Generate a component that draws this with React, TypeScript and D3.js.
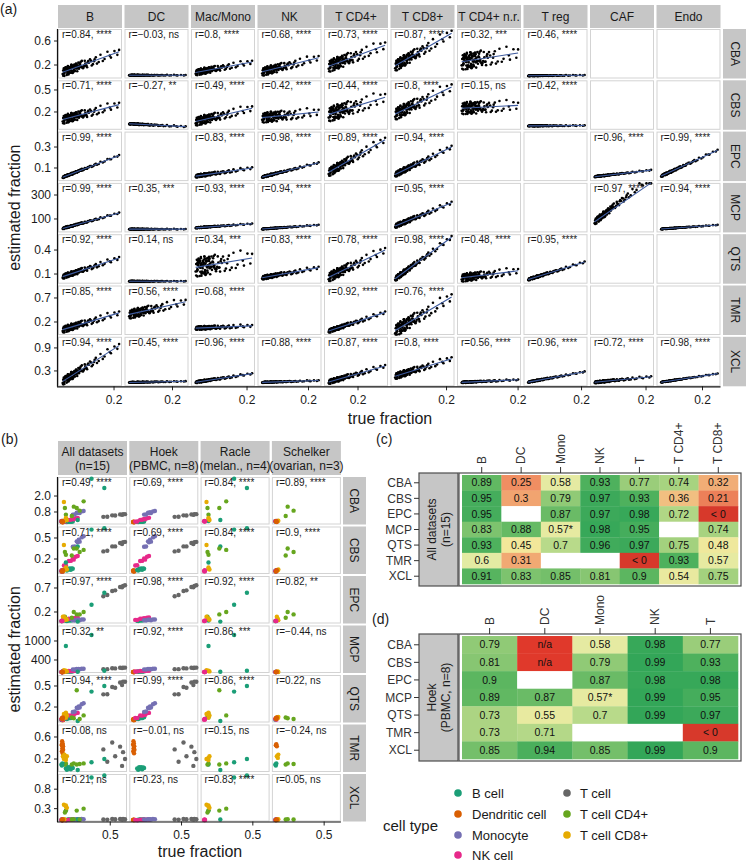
import React from "react";
import * as d3 from "d3";

const FONT = "'Liberation Sans', Arial, Helvetica, sans-serif";

// ---------------- Panel (a) data ----------------
const A_COLS = ["B", "DC", "Mac/Mono", "NK", "T CD4+", "T CD8+", "T CD4+ n.r.", "T reg", "CAF", "Endo"];
const METHODS = ["CBA", "CBS", "EPC", "MCP", "QTS", "TMR", "XCL"];
const A_XMAX = [0.219, 0.258, 0.219, 0.242, 0.374, 0.219, 0.2, 0.211, 0.219, 0.27];
const A_XTICK = 0.2;
const A_YDOM = [[-0.025, 0.8], [-0.043, 0.632], [-0.025, 0.447], [-12, 401], [-0.021, 0.598], [-0.071, 0.96], [-0.1, 1.19]];
const A_YTICKS = [["0.2", "0.6"], ["0.2", "0.5"], ["0.1", "0.3"], ["100", "300"], ["0.1", "0.4"], ["0.2", "0.7"], ["0.3", "0.9"]];

// per panel: [r, significance, estimate at left, estimate at right, spread]
const A_CBA = [["0.84", "****", 0.07, 0.42, 0.08], ["−0.03", "ns", 0.03, 0.03, 0.006], ["0.8", "****", 0.07, 0.25, 0.055], ["0.68", "****", 0.08, 0.32, 0.075], ["0.73", "****", 0.17, 0.53, 0.11], ["0.87", "****", 0.17, 0.73, 0.1], ["0.32", "***", 0.25, 0.4, 0.15], ["0.46", "****", 0.02, 0.03, 0.007], null, null];
const A_CBS = [["0.71", "****", 0.09, 0.3, 0.065], ["−0.27", "**", 0.04, 0.0, 0.01], ["0.49", "****", 0.065, 0.25, 0.065], ["0.42", "****", 0.12, 0.2, 0.075], ["0.44", "****", 0.16, 0.4, 0.11], ["0.8", "****", 0.16, 0.54, 0.09], ["0.15", "ns", 0.25, 0.29, 0.09], ["0.42", "****", 0.01, 0.015, 0.006], null, null];
const A_EPC = [["0.99", "****", 0.005, 0.22, 0.01], null, ["0.83", "****", 0.02, 0.1, 0.016], ["0.98", "****", 0.01, 0.15, 0.01], ["0.89", "****", 0.05, 0.37, 0.045], ["0.94", "****", 0.03, 0.3, 0.028], null, null, ["0.96", "****", 0.015, 0.08, 0.006], ["0.99", "****", 0.015, 0.27, 0.011]];
const A_MCP = [["0.99", "****", 17, 150, 8], ["0.35", "***", 15, 15, 3], ["0.93", "****", 25, 60, 5], ["0.94", "****", 15, 50, 4], null, ["0.95", "****", 35, 236, 20], null, null, ["0.97", "****", 65, 450, 28], ["0.94", "****", 15, 50, 3]];
const A_QTS = [["0.92", "****", 0.06, 0.3, 0.032], ["0.14", "ns", 0.01, 0.01, 0.004], ["0.34", "***", 0.18, 0.3, 0.13], ["0.83", "****", 0.05, 0.18, 0.027], ["0.78", "****", 0.05, 0.4, 0.065], ["0.98", "****", 0.025, 0.56, 0.035], ["0.48", "****", 0.05, 0.14, 0.055], ["0.95", "****", 0.025, 0.25, 0.016], null, null];
const A_TMR = [["0.85", "****", 0.03, 0.39, 0.075], ["0.56", "****", 0.35, 0.62, 0.1], ["0.68", "****", 0.07, 0.12, 0.04], null, ["0.92", "****", 0.0, 0.4, 0.045], ["0.76", "****", 0.0, 0.72, 0.14], null, null, null, null];
const A_XCL = [["0.94", "****", 0.0, 0.96, 0.11], ["0.45", "****", 0.0, 0.03, 0.01], ["0.96", "****", 0.0, 0.23, 0.03], ["0.88", "****", 0.0, 0.05, 0.015], ["0.87", "****", 0.0, 0.43, 0.065], ["0.8", "****", 0.15, 0.62, 0.09], ["0.56", "****", 0.0, 0.07, 0.02], ["0.96", "****", 0.0, 0.28, 0.02], ["0.72", "****", 0.0, 0.15, 0.03], ["0.98", "****", 0.0, 0.23, 0.01]];
const A_DATA = [A_CBA, A_CBS, A_EPC, A_MCP, A_QTS, A_TMR, A_XCL];

// relative true fraction positions and residuals of samples (hand typed)
const NX = [0.04, 0.31, 0.12, 0.22, 0.08, 0.45, 0.17, 0.27, 0.06, 0.36, 0.14, 0.52, 0.2, 0.1, 0.29, 0.41, 0.03, 0.24, 0.33, 0.16, 0.58, 0.11, 0.26, 0.39, 0.07, 0.19, 0.47, 0.13, 0.35, 0.23, 0.65, 0.09, 0.3, 0.18, 0.43, 0.05, 0.28, 0.5, 0.15, 0.37, 0.21, 0.72, 0.12, 0.34, 0.25, 0.55, 0.08, 0.4, 0.19, 0.62, 0.27, 0.1, 0.44, 0.32, 0.15, 0.8, 0.23, 0.48, 0.06, 0.38, 0.17, 0.57, 0.29, 0.13, 0.68, 0.35, 0.21, 0.86, 0.42, 0.26, 0.75, 0.11, 0.53, 0.92, 0.33, 0.6, 0.97, 0.46, 0.84, 1.0,
  0.05, 0.09, 0.13, 0.07, 0.18, 0.11, 0.22, 0.04, 0.15, 0.27, 0.08, 0.2, 0.12, 0.3, 0.06, 0.17, 0.1, 0.25, 0.14, 0.33, 0.07, 0.19, 0.12, 0.24, 0.09, 0.16, 0.28, 0.05, 0.21, 0.13, 0.35, 0.1, 0.18, 0.08, 0.23, 0.15, 0.11, 0.26, 0.06, 0.2];
const NR = [0.3, -0.5, 0.8, -0.1, 0.4, -0.8, 0.1, 0.6, -0.3, 0.9, -0.6, 0.2, -0.9, 0.5, -0.2, 0.7, -0.4, 0.0, 0.6, -0.7, 0.3, -0.1, 0.8, -0.5, 0.2, -0.8, 0.4, 0.1, -0.3, 0.7, -0.6, 0.5, -0.2, 0.9, -0.4, 0.3, -0.9, 0.6, 0.0, -0.5, 0.4, -0.7, 0.2, 0.8, -0.1, -0.6, 0.5, -0.3, 0.7, -0.8, 0.1, 0.6, -0.4, 0.3, -0.2, 0.9, -0.5, 0.0, 0.4, -0.7, 0.6, -0.1, 0.2, -0.9, 0.8, -0.3, 0.5, -0.6, 0.1, 0.7, -0.4, 0.3, -0.8, 0.5, -0.2, 0.6, -0.5, 0.2, -0.1, 0.4,
  -0.4, 0.6, -0.7, 0.2, 0.9, -0.1, 0.4, -0.8, 0.5, -0.3, 0.7, -0.6, 0.1, 0.8, -0.2, 0.3, -0.9, 0.5, -0.5, 0.2, 0.6, -0.4, 0.9, -0.7, 0.0, 0.4, -0.3, 0.7, -0.8, 0.3, -0.1, 0.6, -0.6, 0.8, -0.2, 0.1, -0.5, 0.4, -0.9, 0.2];

// ---------------- Panel (b) data ----------------
const B_COL_L1 = ["All datasets", "Hoek", "Racle", "Schelker"];
const B_COL_L2 = ["(n=15)", "(PBMC, n=8)", "(melan., n=4)", "(ovarian, n=3)"];
const B_YDOM = [[-0.14, 3.43], [-0.014, 0.664], [-0.04, 0.95], [-10.5, 1489], [-0.021, 0.657], [-0.036, 0.827], [-0.03, 1.19]];
const B_YTICKS = [["0.8", "2.0"], ["0.2", "0.5"], ["0.2", "0.7"], ["400", "1000"], ["0.2", "0.5"], ["0.2", "0.6"], ["0.3", "0.8"]];
const B_XDOM = [-0.03, 0.67];
const B_XTICK = 0.5;
const B_R_CBA = ["0.49, ****", "0.69, ****", "0.84, ****", "0.89, ****"];
const B_R_CBS = ["0.71, ****", "0.69, ****", "0.84, ****", "0.9, ****"];
const B_R_EPC = ["0.97, ****", "0.98, ****", "0.92, ****", "0.82, **"];
const B_R_MCP = ["0.32, **", "0.92, ****", "0.86, ***", "−0.44, ns"];
const B_R_QTS = ["0.94, ****", "0.99, ****", "0.86, ****", "0.22, ns"];
const B_R_TMR = ["0.08, ns", "−0.01, ns", "0.15, ns", "−0.24, ns"];
const B_R_XCL = ["0.21, ns", "0.23, ns", "0.83, ****", "0.05, ns"];
const B_R = [B_R_CBA, B_R_CBS, B_R_EPC, B_R_MCP, B_R_QTS, B_R_TMR, B_R_XCL];

const CELL_TYPES = ["B cell", "Dendritic cell", "Monocyte", "NK cell", "T cell", "T cell CD4+", "T cell CD8+"];
const CELL_COLORS = ["#1b9e77", "#d95f02", "#7570b3", "#e7298a", "#666666", "#66a61e", "#e6ab02"];

// Hoek (PBMC, 8 samples): true fractions per cell type
const HOEK_TYPES = ["Dendritic cell", "B cell", "NK cell", "Monocyte", "T cell"];
const HOEK_X_DC = [0.008, 0.01, 0.012, 0.014, 0.016, 0.018, 0.02, 0.022];
const HOEK_X_B = [0.05, 0.06, 0.07, 0.08, 0.09, 0.1, 0.11, 0.12];
const HOEK_X_NK = [0.03, 0.05, 0.08, 0.1, 0.12, 0.13, 0.15, 0.17];
const HOEK_X_MONO = [0.12, 0.14, 0.16, 0.17, 0.18, 0.19, 0.21, 0.23];
const HOEK_X_T = [0.43, 0.47, 0.52, 0.55, 0.6, 0.62, 0.63, 0.65];
const HOEK_X = [HOEK_X_DC, HOEK_X_B, HOEK_X_NK, HOEK_X_MONO, HOEK_X_T];
const HOEK_RES = [0.3, -0.6, 0.8, -0.2, 0.5, -0.9, 0.1, -0.4];
// per method, per Hoek type (DC, B, NK, Mono, T): [intercept, slope, spread]
const HOEK_CBA = [[0.05, 0, 0.02], [0.02, 0.6, 0.02], [0.0, 2.2, 0.04], [0.25, 2.8, 0.06], [-0.03, 1.05, 0.04]];
const HOEK_CBS = [[0.03, 0, 0.01], [0.02, 0.4, 0.015], [0.07, 1.07, 0.02], [0.18, 1.55, 0.03], [0.01, 0.68, 0.02]];
const HOEK_EPC = [null, [0.0, 0.3, 0.01], [0.02, 0.4, 0.01], [0.0, 0.2, 0.01], [0.05, 1.1, 0.02]];
const HOEK_MCP = [[20, 0, 5], [20, 200, 8], [30, 200, 8], [70, 250, 10], [0, 250, 10]];
const HOEK_QTS = [[0.02, 0, 0.01], [0.01, 0.4, 0.01], [0.02, 0.6, 0.015], [-0.03, 1.27, 0.02], [-0.04, 0.95, 0.04]];
const HOEK_TMR = [[0.42, 0, 0.13], [0.0, 0.4, 0.03], null, null, [0.3, 0, 0.25]];
const HOEK_XCL = [[0.01, 0, 0.005], [0.0, 0.2, 0.01], [0.0, 0.15, 0.008], [0.0, 0.15, 0.01], [0.0, 0.05, 0.008]];
const HOEK_FIT = [HOEK_CBA, HOEK_CBS, HOEK_EPC, HOEK_MCP, HOEK_QTS, HOEK_TMR, HOEK_XCL];

// Racle (melanoma, 4 samples): true fractions
const RACLE_TYPES = ["B cell", "T cell CD4+", "T cell CD8+", "NK cell"];
const RACLE_X = [[0.05, 0.17, 0.31, 0.44], [0.04, 0.05, 0.16, 0.23], [0.03, 0.05, 0.05, 0.06], [0.005, 0.01, 0.012, 0.015]];
const RACLE_CBA = [[0.12, 0.2, 3.3, 2.6], [1.1, 0.6, 1.1, 1.6], [1.55, 0.35, 0.3, 0.2], [0.1, 0.12, 0.08, 0.1]];
const RACLE_CBS = [[0.15, 0.38, 0.62, 0.64], [0.3, 0.26, 0.35, 0.33], [0.4, 0.08, 0.06, 0.05], [0.03, 0.02, 0.04, 0.03]];
const RACLE_EPC = [[0.02, 0.0, 0.35, 0.6], [0.1, 0.06, 0.15, 0.2], [0.1, 0.06, 0.05, 0.04], [0.01, 0.02, 0.01, 0.02]];
const RACLE_MCP = [[840, 30, 1190, 60], null, [80, 60, 50, 40], [5, 10, 5, 8]];
const RACLE_QTS = [[0.1, 0.0, 0.42, 0.5], [0.06, 0.05, 0.44, 0.08], [0.1, 0.05, 0.12, 0.08], [0.02, 0.03, 0.02, 0.03]];
const RACLE_TMR = [[0.1, 0.0, 0.14, 0.2], [0.1, 0.12, 0.1, 0.12], [0.2, 0.22, 0.18, 0.25], null];
const RACLE_XCL = [[0.25, 0.02, 1.1, 1.15], [0.2, 0.25, 0.25, 0.3], [0.4, 0.35, 0.38, 0.32], [0.01, 0.02, 0.01, 0.01]];
const RACLE_EST = [RACLE_CBA, RACLE_CBS, RACLE_EPC, RACLE_MCP, RACLE_QTS, RACLE_TMR, RACLE_XCL];

// Schelker (ovarian, 3 samples): true fractions
const SCHELKER_TYPES = ["B cell", "T cell CD4+", "T cell CD8+", "NK cell", "Dendritic cell"];
const SCHELKER_X = [[0.005, 0.01, 0.015], [0.11, 0.13, 0.19], [0.02, 0.03, 0.035], [0.005, 0.01, 0.015], [0.01, 0.015, 0.02]];
const SCHELKER_CBA = [[0.1, 0.08, 0.12], [0.5, 1.2, 0.9], [0.1, 0.12, 0.15], [0.1, 0.12, 0.08], [0.08, 0.1, 0.05]];
const SCHELKER_CBS = [[0.03, 0.02, 0.04], [0.25, 0.35, 0.3], [0.03, 0.04, 0.05], [0.03, 0.02, 0.04], [0.02, 0.03, 0.04]];
const SCHELKER_EPC = [[0.01, 0.01, 0.02], [0.08, 0.2, 0.15], [0.1, 0.06, 0.03], [0.01, 0.02, 0.01], null];
const SCHELKER_MCP = [[5, 8, 10], null, [30, 40, 20], [10, 5, 8], [15, 10, 20]];
const SCHELKER_QTS = [[0.02, 0.03, 0.04], [0.05, 0.04, 0.03], [0.05, 0.04, 0.06], [0.03, 0.04, 0.02], [0.04, 0.03, 0.05]];
const SCHELKER_TMR = [[0.1, 0.08, 0.12], [0.1, 0.12, 0.11], [0.25, 0.22, 0.28], null, [0.45, 0.47, 0.43]];
const SCHELKER_XCL = [[0.01, 0.02, 0.01], [0.02, 0.03, 0.02], [0.02, 0.01, 0.03], [0.01, 0.02, 0.01], [0.01, 0.01, 0.02]];
const SCHELKER_EST = [SCHELKER_CBA, SCHELKER_CBS, SCHELKER_EPC, SCHELKER_MCP, SCHELKER_QTS, SCHELKER_TMR, SCHELKER_XCL];

// ---------------- Heatmaps (c), (d) ----------------
const C_COLS = ["B", "DC", "Mono", "NK", "T", "T CD4+", "T CD8+"];
const C_CBA = ["0.89", "0.25", "0.58", "0.93", "0.77", "0.74", "0.32"];
const C_CBS = ["0.95", "0.3", "0.79", "0.97", "0.93", "0.36", "0.21"];
const C_EPC = ["0.95", "", "0.87", "0.97", "0.98", "0.72", "< 0"];
const C_MCP = ["0.83", "0.88", "0.57*", "0.98", "0.95", "", "0.74"];
const C_QTS = ["0.93", "0.45", "0.7", "0.96", "0.97", "0.75", "0.48"];
const C_TMR = ["0.6", "0.31", "", "", "< 0", "0.93", "0.57"];
const C_XCL = ["0.91", "0.83", "0.85", "0.81", "0.9", "0.54", "0.75"];
const C_VALUES = [C_CBA, C_CBS, C_EPC, C_MCP, C_QTS, C_TMR, C_XCL];

const D_COLS = ["B", "DC", "Mono", "NK", "T"];
const D_CBA = ["0.79", "n/a", "0.58", "0.98", "0.77"];
const D_CBS = ["0.81", "n/a", "0.79", "0.99", "0.93"];
const D_EPC = ["0.9", "", "0.87", "0.98", "0.98"];
const D_MCP = ["0.89", "0.87", "0.57*", "0.99", "0.95"];
const D_QTS = ["0.73", "0.55", "0.7", "0.99", "0.97"];
const D_TMR = ["0.73", "0.71", "", "", "< 0"];
const D_XCL = ["0.85", "0.94", "0.85", "0.99", "0.9"];
const D_VALUES = [D_CBA, D_CBS, D_EPC, D_MCP, D_QTS, D_TMR, D_XCL];

const heatColor = d3.scaleLinear<string>()
  .domain([0, 0.25, 0.45, 0.6, 0.75, 0.9, 1])
  .range(["#d7392b", "#f08e62", "#f2e79a", "#e3eba3", "#a3d17e", "#5cb660", "#2ea457"])
  .clamp(true);

function cellFill(label: string) {
  if (label === "") return "#ffffff";
  if (label === "n/a") return "#e0392b";
  if (label.startsWith("<")) return "#d7392b";
  return heatColor(parseFloat(label));
}

const STRIP = "#c6c6c6";
const BORDER = "#d3d3d3";
const LINE = "#3d5a9e";
const TXT = "#1a1a1a";

// ---------------- components ----------------
function PanelA() {
  const X0 = 58, PW = 64, SX = 66.5, Y0 = 29, PH = 49.5, SY = 51.3;
  const els: any[] = [];
  A_COLS.forEach((c, i) => {
    const x0 = X0 + i * SX;
    els.push(<rect key={"hs" + i} x={x0} y={5} width={PW} height={23} fill={STRIP} />);
    els.push(<text key={"ht" + i} x={x0 + PW / 2} y={16.5} dy="0.35em" textAnchor="middle" fontSize={12} fill={TXT}>{c}</text>);
  });
  METHODS.forEach((m, j) => {
    const y0 = Y0 + j * SY;
    const ys = d3.scaleLinear().domain(A_YDOM[j]).range([y0 + PH, y0]);
    els.push(<rect key={"rs" + j} x={723} y={y0} width={24} height={PH} fill={STRIP} />);
    els.push(<text key={"rt" + j} transform={`translate(735,${y0 + PH / 2}) rotate(90)`} dy="0.35em" textAnchor="middle" fontSize={12} fill={TXT}>{m}</text>);
    A_YTICKS[j].forEach((t, k) => {
      const yy = ys(+t);
      els.push(<line key={`yt${j}-${k}`} x1={54} x2={58} y1={yy} y2={yy} stroke="#222" />);
      els.push(<text key={`yl${j}-${k}`} x={51} y={yy} dy="0.35em" textAnchor="end" fontSize={12} fill={TXT}>{t}</text>);
    });
    A_COLS.forEach((c, i) => {
      const x0 = X0 + i * SX;
      const xm = A_XMAX[i];
      const xs = d3.scaleLinear().domain([-0.05 * xm, 1.05 * xm]).range([x0, x0 + PW]);
      els.push(<rect key={`p${j}-${i}`} x={x0 + 0.5} y={y0 + 0.5} width={PW - 1} height={PH - 1} fill="#fff" stroke={BORDER} />);
      const p: any = A_DATA[j][i];
      if (!p) return;
      const [r, sig, a, b, s] = p;
      const [lo, hi] = A_YDOM[j];
      const pts = NX.map((nx, k) => {
        const yv = Math.max(lo + (hi - lo) * 0.01, Math.min(hi - (hi - lo) * 0.01, a + (b - a) * nx + s * NR[k]));
        return [xs(nx * xm), ys(yv)];
      });
      pts.forEach(([px, py], k) => els.push(<circle key={`c${j}-${i}-${k}`} cx={px} cy={py} r={1.3} fill="#000" />));
      const nmin = d3.min(NX)!, nmax = d3.max(NX)!;
      const yl = (n: number) => ys(Math.max(lo, Math.min(hi, a + (b - a) * n)));
      els.push(<line key={`l${j}-${i}`} x1={xs(nmin * xm)} x2={xs(nmax * xm)} y1={yl(nmin)} y2={yl(nmax)} stroke={LINE} strokeWidth={1.1} />);
      els.push(<text key={`r${j}-${i}`} x={x0 + 4} y={y0 + 9} fontSize={10} fill={TXT}>{`r=${r}, ${sig}`}</text>);
    });
  });
  const yBottom = Y0 + 6 * SY + PH;
  A_COLS.forEach((c, i) => {
    const x0 = X0 + i * SX;
    const xm = A_XMAX[i];
    const xs = d3.scaleLinear().domain([-0.05 * xm, 1.05 * xm]).range([x0, x0 + PW]);
    const xx = xs(A_XTICK);
    els.push(<line key={"xt" + i} x1={xx} x2={xx} y1={yBottom} y2={yBottom + 4} stroke="#222" />);
    els.push(<text key={"xl" + i} x={xx} y={yBottom + 13} dy="0.35em" textAnchor="middle" fontSize={12} fill={TXT}>{A_XTICK.toString()}</text>);
  });
  els.push(<line key="ay" x1={57.5} x2={57.5} y1={Y0} y2={yBottom + 0.5} stroke="#111" strokeWidth={1.2} />);
  els.push(<line key="ax" x1={57} x2={X0 + 9 * SX + PW} y1={yBottom + 0.5} y2={yBottom + 0.5} stroke="#111" strokeWidth={1.2} />);
  els.push(<text key="xtitle" x={390} y={424} textAnchor="middle" fontSize={16} fill={TXT}>true fraction</text>);
  els.push(<text key="ytitle" transform={`translate(20,${(Y0 + yBottom) / 2}) rotate(-90)`} textAnchor="middle" fontSize={16} fill={TXT}>estimated fraction</text>);
  return <g>{els}</g>;
}

function PanelB() {
  const X0 = 58, PW = 69, SX = 71.3, Y0 = 477, PH = 47.5, SY = 49.5;
  const els: any[] = [];
  B_COL_L1.forEach((c, i) => {
    const x0 = X0 + i * SX;
    els.push(<rect key={"hs" + i} x={x0} y={441} width={PW} height={34} fill={STRIP} />);
    els.push(<text key={"ht" + i} x={x0 + PW / 2} y={452} dy="0.35em" textAnchor="middle" fontSize={12} fill={TXT}>{c}</text>);
    els.push(<text key={"hu" + i} x={x0 + PW / 2} y={465.5} dy="0.35em" textAnchor="middle" fontSize={12} fill={TXT}>{B_COL_L2[i]}</text>);
  });
  const colorOf = (t: string) => CELL_COLORS[CELL_TYPES.indexOf(t)];
  METHODS.forEach((m, j) => {
    const y0 = Y0 + j * SY;
    const ys = d3.scaleLinear().domain(B_YDOM[j]).range([y0 + PH, y0]);
    els.push(<rect key={"rs" + j} x={343} y={y0} width={23} height={PH} fill={STRIP} />);
    els.push(<text key={"rt" + j} transform={`translate(354.5,${y0 + PH / 2}) rotate(90)`} dy="0.35em" textAnchor="middle" fontSize={12} fill={TXT}>{m}</text>);
    B_YTICKS[j].forEach((t, k) => {
      const yy = ys(+t);
      els.push(<line key={`yt${j}-${k}`} x1={54} x2={58} y1={yy} y2={yy} stroke="#222" />);
      els.push(<text key={`yl${j}-${k}`} x={51} y={yy} dy="0.35em" textAnchor="end" fontSize={12} fill={TXT}>{t}</text>);
    });
    const hoek: any[] = [];
    HOEK_TYPES.forEach((t, ti) => {
      const f: any = HOEK_FIT[j][ti];
      if (!f) return;
      HOEK_X[ti].forEach((x, k) => hoek.push({ x, y: f[0] + f[1] * x + f[2] * HOEK_RES[k], c: colorOf(t) }));
    });
    const racle: any[] = [];
    RACLE_TYPES.forEach((t, ti) => {
      const e: any = RACLE_EST[j][ti];
      if (!e) return;
      RACLE_X[ti].forEach((x, k) => racle.push({ x, y: e[k], c: colorOf(t) }));
    });
    const sch: any[] = [];
    SCHELKER_TYPES.forEach((t, ti) => {
      const e: any = SCHELKER_EST[j][ti];
      if (!e) return;
      SCHELKER_X[ti].forEach((x, k) => sch.push({ x, y: e[k], c: colorOf(t) }));
    });
    const sets = [[...hoek, ...racle, ...sch], hoek, racle, sch];
    const [lo, hi] = B_YDOM[j];
    sets.forEach((pts, i) => {
      const x0 = X0 + i * SX;
      const xs = d3.scaleLinear().domain(B_XDOM).range([x0, x0 + PW]);
      els.push(<rect key={`p${j}-${i}`} x={x0 + 0.5} y={y0 + 0.5} width={PW - 1} height={PH - 1} fill="#fff" stroke={BORDER} />);
      pts.forEach((p: any, k: number) => {
        const yv = Math.max(lo + (hi - lo) * 0.02, Math.min(hi - (hi - lo) * 0.02, p.y));
        els.push(<circle key={`c${j}-${i}-${k}`} cx={xs(p.x)} cy={ys(yv)} r={2.2} fill={p.c} />);
      });
      els.push(<text key={`r${j}-${i}`} x={x0 + 4} y={y0 + 9} fontSize={10} fill={TXT}>{`r=${B_R[j][i]}`}</text>);
    });
  });
  const yBottom = Y0 + 6 * SY + PH;
  B_COL_L1.forEach((c, i) => {
    const x0 = X0 + i * SX;
    const xs = d3.scaleLinear().domain(B_XDOM).range([x0, x0 + PW]);
    const xx = xs(B_XTICK);
    els.push(<line key={"xt" + i} x1={xx} x2={xx} y1={yBottom} y2={yBottom + 4} stroke="#222" />);
    els.push(<text key={"xl" + i} x={xx} y={yBottom + 13} dy="0.35em" textAnchor="middle" fontSize={12} fill={TXT}>{B_XTICK.toString()}</text>);
  });
  els.push(<line key="ay" x1={57.5} x2={57.5} y1={Y0} y2={yBottom + 0.5} stroke="#111" strokeWidth={1.2} />);
  els.push(<line key="ax" x1={57} x2={X0 + 3 * SX + PW} y1={yBottom + 0.5} y2={yBottom + 0.5} stroke="#111" strokeWidth={1.2} />);
  els.push(<text key="xtitle" x={200} y={857} textAnchor="middle" fontSize={16} fill={TXT}>true fraction</text>);
  els.push(<text key="ytitle" transform={`translate(20,${(Y0 + yBottom) / 2}) rotate(-90)`} textAnchor="middle" fontSize={16} fill={TXT}>estimated fraction</text>);
  return <g>{els}</g>;
}

function Heatmap(props: { cols: string[]; values: string[][]; y0: number; y1: number; strip1: string; strip2: string }) {
  const { cols, values, y0, y1, strip1, strip2 } = props;
  const xs = d3.scaleBand().domain(cols).range([462, 738]);
  const ys = d3.scaleBand().domain(METHODS).range([y0 + 2, y1 - 2]);
  const els: any[] = [];
  els.push(<rect key="strip" x={419} y={y0} width={39} height={y1 - y0} fill={STRIP} stroke="#4d4d4d" strokeWidth={1.2} />);
  els.push(<rect key="panel" x={459} y={y0} width={282} height={y1 - y0} fill="#fff" stroke="#4d4d4d" strokeWidth={1.2} />);
  const cy = (y0 + y1) / 2;
  els.push(<text key="s1" transform={`translate(432,${cy}) rotate(-90)`} dy="0.35em" textAnchor="middle" fontSize={12} fill={TXT}>{strip1}</text>);
  els.push(<text key="s2" transform={`translate(446,${cy}) rotate(-90)`} dy="0.35em" textAnchor="middle" fontSize={12} fill={TXT}>{strip2}</text>);
  METHODS.forEach((m, j) => {
    const yy = ys(m)! + ys.bandwidth() / 2;
    els.push(<line key={"rt" + j} x1={414} x2={419} y1={yy} y2={yy} stroke="#333" />);
    els.push(<text key={"rl" + j} x={412} y={yy} dy="0.35em" textAnchor="end" fontSize={12} fill="#333">{m}</text>);
    cols.forEach((c, i) => {
      const lab = values[j][i];
      els.push(<rect key={`c${j}-${i}`} x={xs(c)!} y={ys(m)!} width={xs.bandwidth() + 0.3} height={ys.bandwidth() + 0.3} fill={cellFill(lab)} />);
      if (lab !== "") els.push(<text key={`t${j}-${i}`} x={xs(c)! + xs.bandwidth() / 2} y={yy} dy="0.35em" textAnchor="middle" fontSize={10.5} fill="#111">{lab}</text>);
    });
  });
  cols.forEach((c, i) => {
    const xx = xs(c)! + xs.bandwidth() / 2;
    els.push(<line key={"ct" + i} x1={xx} x2={xx} y1={y0 - 6} y2={y0} stroke="#333" />);
    els.push(<text key={"cl" + i} transform={`translate(${xx},${y0 - 9}) rotate(-90)`} dy="0.35em" textAnchor="start" fontSize={12} fill="#333">{c}</text>);
  });
  return <g>{els}</g>;
}

function Legend() {
  const col1 = CELL_TYPES.slice(0, 4);
  const col2 = CELL_TYPES.slice(4);
  const rowsY = [793, 814, 835, 855];
  return (
    <g>
      <text x={383} y={831} fontSize={15} fill={TXT}>cell type</text>
      {col1.map((t, k) => (
        <g key={"a" + k}>
          <circle cx={458} cy={rowsY[k]} r={3.8} fill={CELL_COLORS[CELL_TYPES.indexOf(t)]} />
          <text x={472} y={rowsY[k]} dy="0.35em" fontSize={13} fill={TXT}>{t}</text>
        </g>
      ))}
      {col2.map((t, k) => (
        <g key={"b" + k}>
          <circle cx={567} cy={rowsY[k]} r={3.8} fill={CELL_COLORS[CELL_TYPES.indexOf(t)]} />
          <text x={580} y={rowsY[k]} dy="0.35em" fontSize={13} fill={TXT}>{t}</text>
        </g>
      ))}
    </g>
  );
}

export default function App() {
  return (
    <svg width={746} height={862} style={{ position: "absolute", left: 0, top: 0, background: "#fff" }} fontFamily={FONT}>
      <rect x={0} y={0} width={746} height={862} fill="#fff" />
      <PanelA />
      <PanelB />
      <Heatmap cols={C_COLS} values={C_VALUES} y0={473} y1={586} strip1="All datasets" strip2="(n=15)" />
      <Heatmap cols={D_COLS} values={D_VALUES} y0={634} y1={761} strip1="Hoek" strip2="(PBMC, n=8)" />
      <Legend />
      <text x={0} y={14} fontSize={14} fill={TXT}>(a)</text>
      <text x={1} y={444} fontSize={14} fill={TXT}>(b)</text>
      <text x={376} y={444} fontSize={14} fill={TXT}>(c)</text>
      <text x={372} y={624} fontSize={14} fill={TXT}>(d)</text>
    </svg>
  );
}
